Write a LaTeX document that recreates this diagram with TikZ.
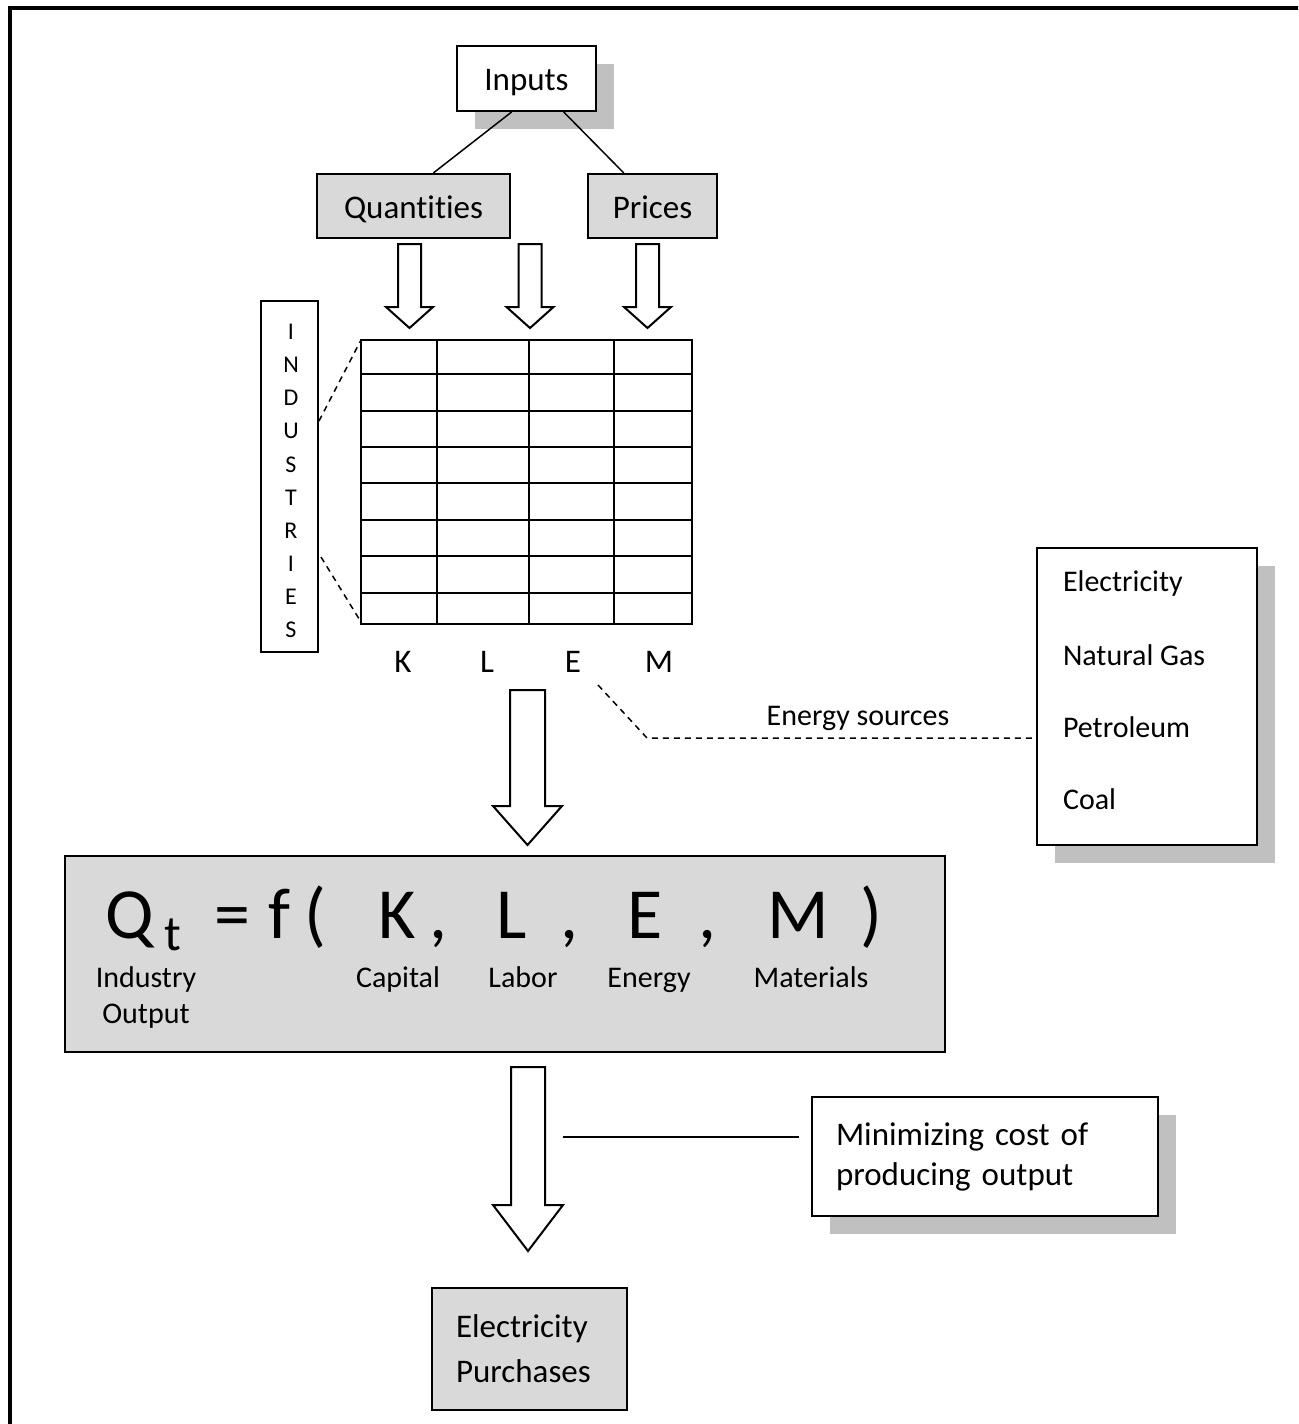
\documentclass[tikz,border=0pt]{standalone}
\usepackage{fontspec}
\setmainfont{Carlito}[Ligatures={NoCommon}]
\usetikzlibrary{shadows}
\definecolor{boxgray}{RGB}{217,217,217}
\definecolor{shadowgray}{RGB}{192,192,192}

\begin{document}
\begin{tikzpicture}[x=0.5pt,y=-0.5pt,line width=1pt,
  txt/.style={font=\fontsize{16.5}{20}\selectfont},
  small/.style={font=\fontsize{15}{18}\selectfont},
  big/.style={font=\fontsize{36}{40}\selectfont,anchor=base,inner sep=0pt},
  box/.style={draw,line width=1pt,fill=white,txt,inner sep=0pt},
  graybox/.style={box,fill=boxgray},
  oneline/.style={text height=13pt,text depth=1pt},
  shadowed/.style={drop shadow={shadow xshift=9pt,shadow yshift=-9pt,fill=shadowgray,opacity=1}},
  blockarrow/.style={draw,line width=1pt,fill=white,line join=miter},
  link/.style={line width=0.75pt},
  dashlink/.style={line width=0.75pt,dash pattern=on 3pt off 2.5pt}]
\useasboundingbox (0,0) rectangle (1298,1424);
\clip (0,0) rectangle (1298,1424);
\draw[line width=2pt] (10,1430) -- (10,8) -- (1310,8);

\node[box,oneline,shadowed,minimum width=69.5pt,minimum height=32.5pt] (inputs) at (526.5,78.5) {Inputs};
\node[graybox,oneline,minimum width=96.5pt,minimum height=32pt] (quant) at (413.5,206) {Quantities};
\node[graybox,oneline,minimum width=64.5pt,minimum height=32pt] (prices) at (652.5,206) {Prices};
\draw[link] (inputs.-114) -- (quant.59);
\draw[link] (inputs.-42) -- (prices.131);

\foreach \x in {409.5,530,647.5}
   \draw[blockarrow] (\x-11.5,244) -- (\x+11.5,244) -- (\x+11.5,307) -- (\x+23.5,307)
      -- (\x,328) -- (\x-23.5,307) -- (\x-11.5,307) -- cycle;

\node[draw,minimum width=28.5pt,minimum height=175.5pt,inner sep=0pt] (industries) at (289.5,476.5) {};
\foreach \c [count=\i] in {I,N,D,U,S,T,R,I,E,S}
   \node[font=\fontsize{12}{14}\selectfont,inner sep=0pt] (ind\i) at (291,{332+33.1*(\i-1)}) {\c};

\draw (361,340) rectangle (692,624);
\foreach \x in {437,529,614}
   \draw (\x,340) -- (\x,624);
\foreach \y in {374,411,447,483,520,556,593}
   \draw (361,\y) -- (692,\y);
\coordinate (tabnw) at (361,340);
\coordinate (tabsw) at (361,622);
\coordinate (indtop) at (319,421);
\coordinate (indbot) at (321,557);
\draw[dashlink] (indtop) -- (tabnw);
\draw[dashlink] (indbot) -- (tabsw);

\foreach \x/\l in {403/K,487/L,573/E,659/M}
   \node[txt] (col\l) at (\x,662) {\l};

\node[box,shadowed,minimum width=110pt,minimum height=148.5pt] (sources) at (1147,696.5) {};
\foreach \s [count=\i] in {Electricity,Natural Gas,Petroleum,Coal}
   \node[small,anchor=west,inner sep=0pt] (src\i) at (1062,{583+72*(\i-1)}) {\s};
\node[small,anchor=base] (srclabel) at (858,725) {Energy sources};
\coordinate (esrc) at (598,685);
\coordinate (ebend) at (647,738);
\draw[dashlink] (esrc) -- (ebend) -- (ebend -| sources.west);

\draw[blockarrow] (510,690) -- (545,690) -- (545,806) -- (562,806) -- (527.5,845)
   -- (493,806) -- (510,806) -- cycle;

\node[graybox,minimum width=440pt,minimum height=98pt] (prodfn) at (505,954) {};
\foreach \x/\s [count=\i] in {130/Q,232/=,279/f,315/(,397.5/K,438/{,},512/L,569/{,},645/E,707.5/{,},798.5/M,871.5/)}
   \node[big] (fn\i) at (\x,938) {\s};
\node[font=\fontsize{25}{28}\selectfont,anchor=base,inner sep=0pt] (fnt) at (172.5,950) {t};
\node[small,anchor=base] (indlab) at (146,987) {Industry};
\node[small,anchor=base] (outlab) at (146,1023) {Output};
\foreach \x/\s in {398/Capital,523/Labor,649/Energy,811/Materials}
   \node[small,anchor=base] (lab\s) at (\x,987) {\s};

\draw[blockarrow] (511,1067) -- (545,1067) -- (545,1205) -- (563,1205) -- (528,1251)
   -- (493,1205) -- (511,1205) -- cycle;

\node[box,shadowed,minimum width=173pt,minimum height=59.5pt,align=left,text width=149pt,inner xsep=12pt] (mincost) at (985,1156.5) {Minimizing cost of\\producing output};
\coordinate (costl) at (563,1137);
\coordinate (costr) at (799,1137);
\draw[link] (costl) -- (costr);

\node[graybox,minimum width=97.5pt,minimum height=61pt,align=left,text width=73.5pt,inner xsep=12pt,font=\fontsize{16.5}{22.5}\selectfont] (purch) at (529.5,1349) {Electricity\\Purchases};
\end{tikzpicture}
\end{document}
